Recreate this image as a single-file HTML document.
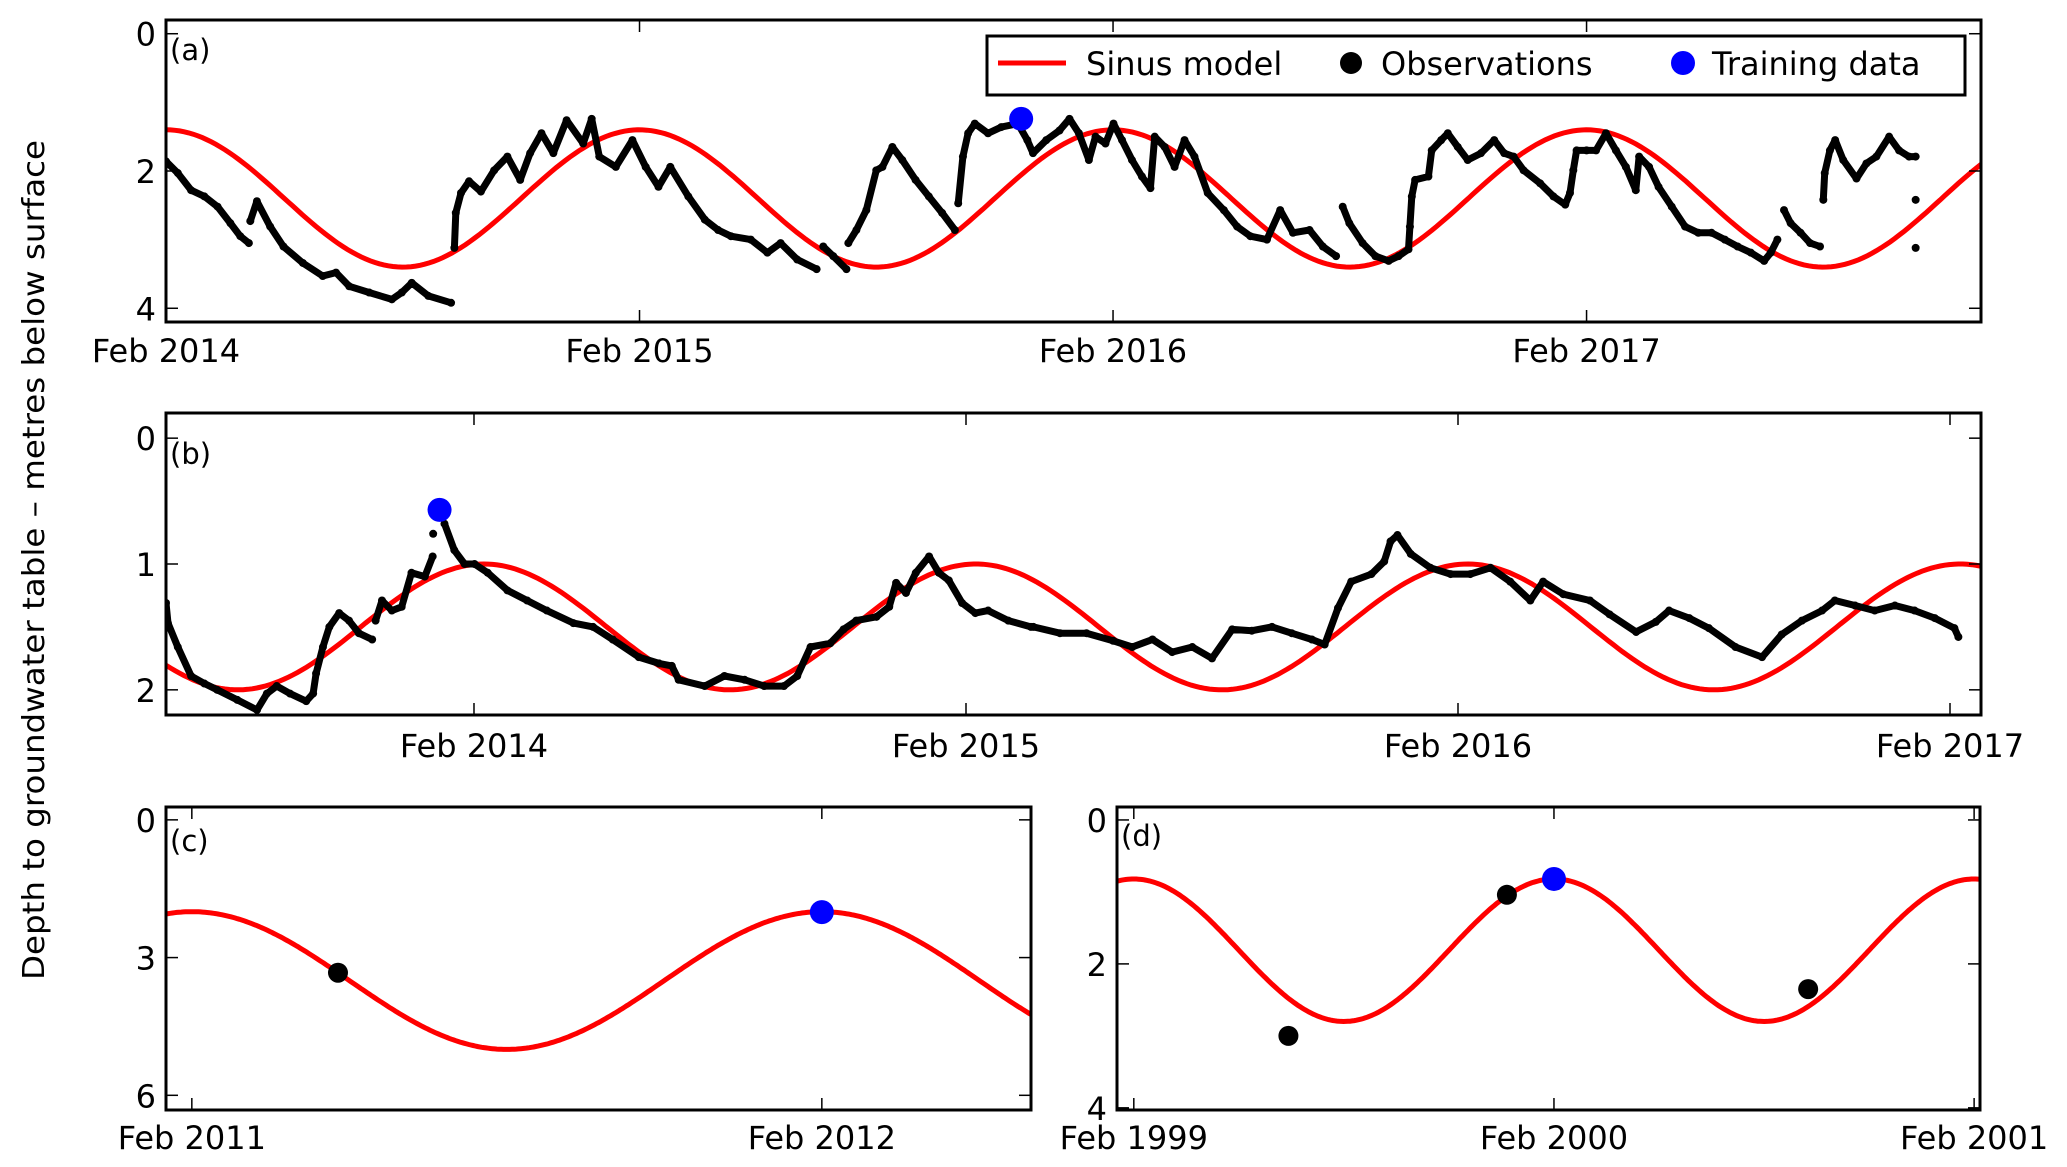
<!DOCTYPE html>
<html><head><meta charset="utf-8"><style>
html,body{margin:0;padding:0;background:#fff;}
svg{display:block;font-family:"DejaVu Sans","Liberation Sans",sans-serif;}
</style></head><body>
<svg id="fig" width="2067" height="1167" viewBox="0 0 2067 1167" xmlns="http://www.w3.org/2000/svg">
<rect width="2067" height="1167" fill="#fff"/>
<text transform="translate(44,560) rotate(-90)" text-anchor="middle" font-size="30" textLength="840" lengthAdjust="spacingAndGlyphs">Depth to groundwater table – metres below surface</text>
</svg>
<script>
// ---- Panel (a) data: t = years since Feb 2014, depth in metres ----
const aObsT = [0.0,0.025,0.053,0.081,0.109,0.136,0.157,0.175,null,0.178,0.192,0.220,0.248,0.289,0.331,0.359,0.387,0.429,0.477,0.498,0.519,0.554,0.602,null,
0.609,0.612,0.623,0.640,0.665,0.693,0.721,0.748,0.769,0.793,0.818,0.846,0.881,0.899,0.915,0.950,0.985,1.013,1.040,1.065,1.103,1.138,1.166,1.193,1.235,1.270,1.298,1.333,1.374,null,
1.388,1.409,1.437,null,1.441,1.458,1.479,1.500,1.513,1.534,1.555,1.583,1.611,1.639,1.666,null,1.673,1.683,1.694,1.708,1.736,1.764,1.799,1.819,
1.831,1.859,1.887,1.908,1.928,1.949,1.963,1.984,2.001,2.019,2.040,2.061,2.079,2.088,2.109,2.130,2.151,2.172,2.200,2.234,2.262,2.290,2.325,2.353,2.380,2.415,2.443,2.471,null,
2.485,2.499,2.527,2.554,2.582,2.603,2.624,2.627,2.631,2.638,2.666,2.673,2.693,2.707,2.728,2.749,2.777,2.805,2.826,2.846,2.867,2.902,2.930,2.955,2.965,2.972,2.979,3.000,3.020,3.041,3.062,3.083,3.104,
3.111,3.132,3.152,3.180,3.208,3.236,3.264,3.292,3.319,3.347,3.375,3.389,3.403,null,3.417,3.431,3.452,3.472,3.493,null,
3.500,3.503,3.514,3.525,3.542,3.570,3.591,3.612,3.639,3.660,3.681,3.695,null,3.695,null,3.695];
const aObsD = [1.86,2.03,2.28,2.37,2.52,2.76,2.95,3.05,null,2.73,2.44,2.81,3.10,3.34,3.53,3.48,3.68,3.77,3.87,3.77,3.63,3.82,3.92,null,
3.12,2.61,2.32,2.15,2.30,1.99,1.79,2.13,1.74,1.45,1.74,1.26,1.60,1.24,1.79,1.94,1.55,1.94,2.23,1.94,2.37,2.71,2.86,2.95,3.00,3.19,3.05,3.29,3.43,null,
3.10,3.24,3.43,null,3.05,2.86,2.57,1.99,1.94,1.65,1.84,2.13,2.37,2.61,2.86,null,2.47,1.79,1.45,1.31,1.45,1.36,1.31,1.55,
1.74,1.55,1.41,1.24,1.45,1.84,1.50,1.60,1.31,1.55,1.84,2.08,2.25,1.50,1.65,1.94,1.55,1.79,2.32,2.57,2.81,2.95,3.00,2.57,2.90,2.86,3.10,3.24,null,
2.52,2.76,3.05,3.24,3.31,3.24,3.14,2.81,2.37,2.13,2.08,1.70,1.55,1.45,1.65,1.84,1.74,1.55,1.74,1.79,1.99,2.18,2.37,2.49,2.32,1.99,1.70,1.70,1.70,1.45,1.70,1.94,2.28,
1.79,1.94,2.23,2.52,2.81,2.90,2.90,3.00,3.10,3.19,3.31,3.19,3.00,null,2.57,2.76,2.90,3.05,3.10,null,
2.42,2.03,1.70,1.55,1.84,2.11,1.89,1.79,1.50,1.70,1.79,1.79,null,2.42,null,3.12];
const aTrainT = [1.806];
const aTrainD = [1.24];
const aXTicks = [0,1,2,3];
const aXLabels = ["Feb 2014","Feb 2015","Feb 2016","Feb 2017"];
const aYTicks = [0,2,4];
const aSine = [2.4, 1.0, 1.0]; // mean, amplitude, time of shallowest depth

// ---- Panel (b) ----
const bObsT = [-0.626,-0.622,-0.602,-0.575,-0.548,-0.522,-0.481,-0.441,-0.421,-0.401,-0.374,-0.341,-0.327,-0.321,-0.307,-0.294,-0.274,-0.254,-0.234,-0.207,null,
-0.200,-0.187,-0.167,-0.147,-0.127,-0.100,-0.084,null,-0.083,null,-0.060,-0.040,-0.019,0.001,0.028,0.068,0.108,0.148,0.202,0.242,0.282,0.335,0.376,0.402,0.416,0.469,0.509,0.550,0.590,0.630,0.657,0.684,0.724,0.751,0.777,0.818,0.844,0.858,0.878,0.898,0.925,0.945,0.965,0.992,1.019,1.045,1.086,1.132,
1.137,1.191,1.245,1.299,1.338,1.379,1.419,1.460,1.500,1.541,1.581,1.622,1.662,1.703,1.729,1.756,1.783,1.824,1.850,1.863,1.877,1.904,1.944,1.985,2.025,2.066,2.106,2.147,2.173,2.214,2.268,2.308,2.362,2.402,2.429,2.470,2.510,2.564,2.618,2.658,2.699,2.740,2.766,2.807,2.847,2.888,2.928,2.969,3.009,3.017];
const bObsD = [1.31,1.47,1.66,1.89,1.95,2.00,2.08,2.16,2.03,1.97,2.03,2.09,2.03,1.87,1.66,1.50,1.39,1.45,1.55,1.60,null,
1.45,1.29,1.37,1.34,1.07,1.10,0.94,null,0.76,null,0.68,0.89,1.00,1.00,1.07,1.21,1.29,1.37,1.47,1.50,1.60,1.74,1.79,1.81,1.92,1.97,1.89,1.92,1.97,1.97,1.89,1.66,1.63,1.52,1.45,1.42,1.34,1.15,1.23,1.07,0.94,1.07,1.13,1.31,1.39,1.37,1.45,1.50,
1.50,1.55,1.55,1.61,1.66,1.60,1.70,1.66,1.75,1.52,1.53,1.50,1.55,1.60,1.64,1.35,1.14,1.08,0.98,0.82,0.77,0.92,1.03,1.08,1.08,1.03,1.14,1.29,1.14,1.24,1.29,1.40,1.54,1.46,1.37,1.43,1.51,1.66,1.74,1.56,1.45,1.37,1.29,1.33,1.37,1.33,1.37,1.43,1.51,1.58];
const bTrainT = [-0.070];
const bTrainD = [0.57];
const bXTicks = [0,1,2,3];
const bXLabels = ["Feb 2014","Feb 2015","Feb 2016","Feb 2017"];
const bYTicks = [0,1,2];
const bSine = [1.5, 0.5, 0.02];

// ---- Panel (c): t = years since Feb 2011 ----
const cObsT = [0.232];
const cObsD = [3.33];
const cTrainT = [1.0];
const cTrainD = [2.01];
const cXTicks = [0,1];
const cXLabels = ["Feb 2011","Feb 2012"];
const cYTicks = [0,3,6];
const cSine = [3.5, 1.5, 0.0];

// ---- Panel (d): t = years since Feb 1999 ----
const dObsT = [0.368,0.888,1.605];
const dObsD = [3.0,1.04,2.35];
const dTrainT = [1.0];
const dTrainD = [0.82];
const dXTicks = [0,1,2];
const dXLabels = ["Feb 1999","Feb 2000","Feb 2001"];
const dYTicks = [0,2,4];
const dSine = [1.81, 0.99, 0.0];

const NS = "http://www.w3.org/2000/svg";
const svg = document.getElementById('fig');
function mk(tag, attrs, parent){ const e=document.createElementNS(NS,tag); for(const k in attrs) e.setAttribute(k,attrs[k]); (parent||svg).appendChild(e); return e; }

function panel(id, box, xdom, ydom, xt, xl, yt, sine, obsT, obsD, trT, trD, obsR, obsLine, labelBase, letter, letterY){
  const g = mk('g',{});
  
  
  const [L,T,R,B] = box;
  const sx = t => L + (t - xdom[0]) / (xdom[1]-xdom[0]) * (R-L);
  const sy = d => T + (d - ydom[0]) / (ydom[1]-ydom[0]) * (B-T);
  const clip = 'clip-'+id;
  const cp = mk('clipPath',{id:clip},g); mk('rect',{x:L,y:T,width:R-L,height:B-T},cp);
  let p = '';
  const N = 400;
  for(let i=0;i<=N;i++){ const t = xdom[0] + (xdom[1]-xdom[0])*i/N; const d = sine[0] - sine[1]*Math.cos(2*Math.PI*(t - sine[2])); p += (i?'L':'M')+sx(t).toFixed(1)+','+sy(d).toFixed(1); }
  const line = mk('path',{d:p,fill:'none',stroke:'#ff0000','stroke-width':5,'clip-path':'url(#'+clip+')'},g);
  
  
  const og = mk('g',{'clip-path':'url(#'+clip+')'},g);
  
  
  if(obsLine){
    let q='', pen=false;
    for(let i=0;i<obsT.length;i++){
      if(obsT[i]===null||obsD[i]===null){pen=false;continue;}
      q += (pen?'L':'M')+sx(obsT[i]).toFixed(1)+','+sy(obsD[i]).toFixed(1); pen=true;
    }
    mk('path',{d:q,fill:'none',stroke:'#000','stroke-width':7,'stroke-linejoin':'round','stroke-linecap':'round'},og);
  }
  for(let i=0;i<obsT.length;i++){
    if(obsT[i]===null||obsD[i]===null) continue;
    const c = mk('circle',{cx:sx(obsT[i]),cy:sy(obsD[i]),r:obsR,fill:'#000'},og);
    
    
  }
  for(let i=0;i<trT.length;i++){
    const c = mk('circle',{cx:sx(trT[i]),cy:sy(trD[i]),r:12,fill:'#0000ff'},g);
    
    
  }
  const fr = mk('rect',{x:L,y:T,width:R-L,height:B-T,fill:'none',stroke:'#000','stroke-width':3},g);
  
  
  xt.forEach((t,i)=>{
    const x = sx(t);
    mk('line',{x1:x,y1:B,x2:x,y2:B-12,stroke:'#000','stroke-width':1.5},g);
    mk('line',{x1:x,y1:T,x2:x,y2:T+12,stroke:'#000','stroke-width':1.5},g);
    const tx = mk('text',{x:x,y:labelBase,'text-anchor':'middle','font-size':32},g);
    tx.textContent = xl[i];
    
    
  });
  yt.forEach(v=>{
    const y = sy(v);
    mk('line',{x1:L,y1:y,x2:L+12,y2:y,stroke:'#000','stroke-width':1.5},g);
    mk('line',{x1:R,y1:y,x2:R-12,y2:y,stroke:'#000','stroke-width':1.5},g);
    const tx = mk('text',{x:L-10,y:y+12,'text-anchor':'end','font-size':32},g);
    tx.textContent = String(v);
    
    
  });
  const lt = mk('text',{x:L+4,y:letterY,'font-size':29},g);
  lt.textContent = letter;
  
  
}

panel('a',[166,20,1981,322],[0,3.833],[-0.2,4.2],aXTicks,aXLabels,aYTicks,aSine,aObsT,aObsD,aTrainT,aTrainD,4,true,362,'(a)',60);
panel('b',[166,413,1981,715],[-0.626,3.063],[-0.2,2.2],bXTicks,bXLabels,bYTicks,bSine,bObsT,bObsD,bTrainT,bTrainD,4,true,757,'(b)',464);
panel('c',[166,807,1031,1110],[-0.041,1.332],[-0.28,6.32],cXTicks,cXLabels,cYTicks,cSine,cObsT,cObsD,cTrainT,cTrainD,10,false,1149,'(c)',851);
panel('d',[1117,807,1980,1110],[-0.040,2.014],[-0.18,4.03],dXTicks,dXLabels,dYTicks,dSine,dObsT,dObsD,dTrainT,dTrainD,10,false,1149,'(d)',846);

const lg = mk('g',{});


mk('rect',{x:987,y:36,width:978,height:59,fill:'#fff',stroke:'#000','stroke-width':3},lg);
const e1 = mk('g',{},lg);


mk('line',{x1:998,y1:63,x2:1066,y2:63,stroke:'#ff0000','stroke-width':5},e1);
mk('text',{x:1086,y:75,'font-size':32},e1).textContent='Sinus model';
const e2 = mk('g',{},lg);


mk('circle',{cx:1351,cy:63,r:11,fill:'#000'},e2);
mk('text',{x:1381,y:75,'font-size':32},e2).textContent='Observations';
const e3 = mk('g',{},lg);


mk('circle',{cx:1683,cy:63,r:12,fill:'#0000ff'},e3);
mk('text',{x:1712,y:75,'font-size':32},e3).textContent='Training data';
</script>
</body></html>
